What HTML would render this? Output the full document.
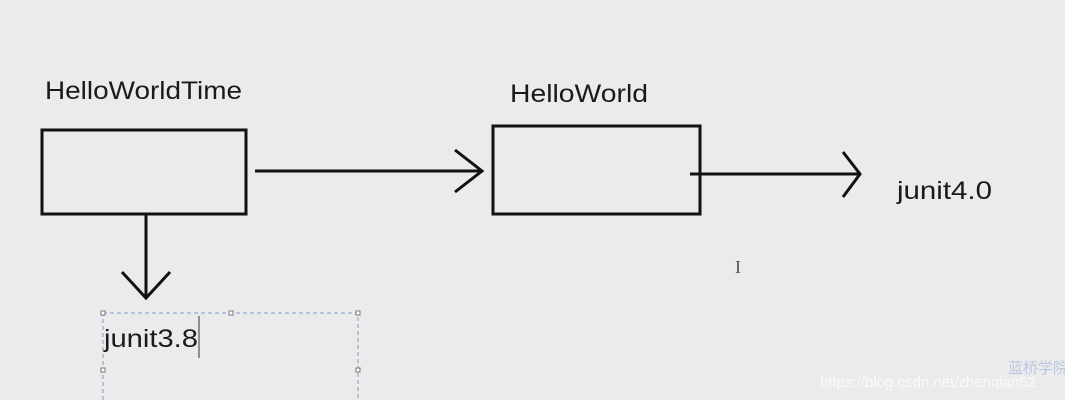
<!DOCTYPE html>
<html><head><style>html,body{margin:0;padding:0;background:#ebebeb;}svg{display:block}</style></head>
<body>
<svg width="1065" height="400" xmlns="http://www.w3.org/2000/svg">
<rect width="1065" height="400" fill="#ebebeb"/>
<g font-family="Liberation Sans, sans-serif" fill="#1a1a1a" font-size="25">
<text x="45" y="99" textLength="197" lengthAdjust="spacingAndGlyphs">HelloWorldTime</text>
<text x="510" y="102" textLength="138" lengthAdjust="spacingAndGlyphs">HelloWorld</text>
<text x="897" y="199" textLength="95" lengthAdjust="spacingAndGlyphs">junit4.0</text>
<text x="104" y="347" textLength="94" lengthAdjust="spacingAndGlyphs">junit3.8</text>
</g>
<g stroke="#111" stroke-width="3" fill="none">
<rect x="42" y="130" width="204" height="84"/>
<rect x="493" y="126" width="207" height="88"/>
<line x1="255" y1="171" x2="482" y2="171"/>
<polyline points="455,150 482,171 455,192"/>
<line x1="690" y1="174" x2="860" y2="174"/>
<polyline points="843,152 860,174 843,197"/>
<line x1="146" y1="215" x2="146" y2="298"/>
<polyline points="122,272 146,298 170,272"/>
</g>
<line x1="199" y1="316" x2="199" y2="358" stroke="#333" stroke-width="1"/>
<rect x="103" y="313" width="255" height="100" fill="none" stroke="#7b9bcf" stroke-width="1" stroke-dasharray="4,3"/>
<g fill="#fff" stroke="#777" stroke-width="1">
<rect x="101" y="311" width="4" height="4"/><rect x="229" y="311" width="4" height="4"/><rect x="356" y="311" width="4" height="4"/>
<rect x="101" y="368" width="4" height="4"/><rect x="356" y="368" width="4" height="4"/>
</g>
<text x="735" y="273" font-family="Liberation Serif, serif" font-size="18" fill="#555">I</text>
<text x="1008" y="373" font-family="Liberation Sans, 'Noto Sans CJK SC', sans-serif" font-size="15" fill="#b8c8e0">蓝桥学院</text>
<text x="820" y="387" font-family="Liberation Sans, sans-serif" font-size="15" fill="#fafafa">https://blog.csdn.net/zhenqian52</text>
</svg>
</body></html>
